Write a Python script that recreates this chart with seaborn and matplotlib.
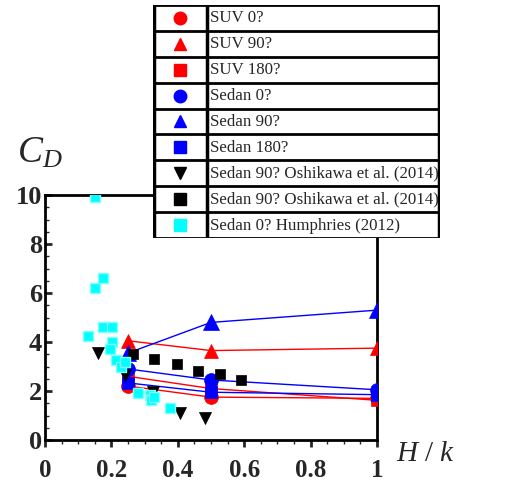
import matplotlib
matplotlib.use("Agg")
import matplotlib.pyplot as plt
import seaborn as sns
import pandas as pd
import numpy as np

# ---- data ----
hk = [0.25, 0.5, 1.0]
suv_0 = [2.2, 1.75, 1.7]
suv_90 = [4.05, 3.65, 3.75]
suv_180 = [2.6, 2.1, 1.62]
sedan_0 = [2.9, 2.45, 2.05]
sedan_90 = [3.55, 4.8, 5.3]
sedan_180 = [2.33, 1.95, 1.85]

osh_tri_x = [0.159, 0.242, 0.326, 0.407, 0.482]
osh_tri_y = [3.55, 2.65, 1.97, 1.1, 0.9]
osh_sq_x = [0.264, 0.329, 0.397, 0.462, 0.527, 0.59]
osh_sq_y = [3.5, 3.31, 3.1, 2.83, 2.69, 2.45]
hum_x = [0.151, 0.151, 0.176, 0.13, 0.176, 0.202, 0.201, 0.196, 0.213,
         0.228, 0.241, 0.279, 0.316, 0.318, 0.328, 0.375]
hum_y = [9.93, 6.19, 6.63, 4.24, 4.6, 4.6, 4.01, 3.7, 3.27,
         2.99, 3.2, 1.93, 1.84, 1.63, 1.74, 1.29]

legend_labels = ["SUV 0?", "SUV 90?", "SUV 180?", "Sedan 0?", "Sedan 90?",
                 "Sedan 180?", "Sedan 90? Oshikawa et al. (2014)",
                 "Sedan 90? Oshikawa et al. (2014)", "Sedan 0? Humphries (2012)"]
x_ticks = [0, 0.2, 0.4, 0.6, 0.8, 1]
x_ticklabels = ["0", "0.2", "0.4", "0.6", "0.8", "1"]
y_ticks = [0, 2, 4, 6, 8, 10]

sns.set_theme(style="ticks")
plt.rcParams["font.family"] = ["Liberation Serif", "DejaVu Serif"]
plt.rcParams["mathtext.fontset"] = "custom"
plt.rcParams["mathtext.it"] = "Liberation Serif:italic"
plt.rcParams["mathtext.rm"] = "Liberation Serif"

RED = "#ff0000"
BLUE = "#0000ff"
CYAN = "#00ffff"

fig = plt.figure(figsize=(5.14, 4.83), dpi=100)
ax = fig.add_axes([45/514, 43/483, 332/514, 245/483])

series = [
    (suv_0, RED, "o", 10),
    (suv_90, RED, "^", 10),
    (suv_180, RED, "s", 9),
    (sedan_0, BLUE, "o", 10),
    (sedan_90, BLUE, "^", 12),
    (sedan_180, BLUE, "s", 9),
]
for vals, col, mk, ms in series:
    df = pd.DataFrame({"x": hk, "y": vals})
    sns.lineplot(data=df, x="x", y="y", color=col, lw=1.0, ax=ax,
                 marker=mk, markersize=ms, markeredgecolor=col,
                 markeredgewidth=0.5, legend=False, zorder=3)

sns.scatterplot(x=osh_tri_x, y=osh_tri_y, marker="v", color="black", s=75,
                edgecolor="black", linewidth=0.5, ax=ax, zorder=4, legend=False)
sns.scatterplot(x=osh_sq_x, y=osh_sq_y, marker="s", color="black", s=55,
                edgecolor="black", linewidth=0.5, ax=ax, zorder=4, legend=False)
sns.scatterplot(x=hum_x, y=hum_y, marker="s", color=CYAN, s=60,
                edgecolor="#80ffff", linewidth=1.0, ax=ax, zorder=5, legend=False)

ax.set_xlim(0, 1)
ax.set_ylim(0, 10)
ax.set_xticks(x_ticks)
ax.set_xticklabels(x_ticklabels)
ax.set_yticks(y_ticks)
ax.set_xticks(np.arange(0, 1.0001, 0.05), minor=True)
ax.set_yticks(np.arange(0, 10.0001, 0.5), minor=True)
for s in ax.spines.values():
    s.set_linewidth(2)
    s.set_color("black")
ax.tick_params(axis="x", which="major", direction="out", length=5, width=2,
               pad=9, labelsize=18)
ax.tick_params(axis="x", which="minor", direction="out", length=3, width=1)
ax.tick_params(axis="y", which="major", direction="in", length=5, width=2,
               pad=2, labelsize=19)
ax.tick_params(axis="y", which="minor", direction="in", length=3, width=1)
for lab in ax.get_xticklabels() + ax.get_yticklabels():
    lab.set_fontweight("bold")
ax.set_xlabel("")
ax.set_ylabel("")

fig.text(17/514, 1 - 163/483, "$C_D$", fontsize=27, ha="left", va="baseline")
fig.text(396/514, 1 - 461/483, "$H\\ /\\ k$", fontsize=21, ha="left", va="baseline")

# ---- legend table ----
lax = fig.add_axes([153/514, 1 - 238/483, 287/514, 233/483])
lax.set_xlim(0, 287)
lax.set_ylim(9, 0)
lax.set_facecolor("white")
for s in lax.spines.values():
    s.set_visible(False)
lax.set_xticks([])
lax.set_yticks([])
for i in range(10):
    lax.axhline(i, color="black", lw=2)
lax.axvline(1, color="black", lw=2.5)
lax.axvline(54, color="black", lw=2.5)
lax.axvline(286, color="black", lw=2.5)

leg_styles = [(RED, "o", 9), (RED, "^", 8), (RED, "s", 8),
              (BLUE, "o", 9), (BLUE, "^", 8), (BLUE, "s", 8),
              ("black", "v", 8), ("black", "s", 8), (CYAN, "s", 8)]
for i, ((col, mk, ms), lab) in enumerate(zip(leg_styles, legend_labels)):
    lax.plot([27], [i + 0.5], marker=mk, color=col, markersize=ms,
             markeredgecolor=col, ls="none", clip_on=False)
    lax.text(57, i + 0.52, lab, fontsize=12.2, ha="left", va="center")

fig.savefig("out.png", dpi=100)
